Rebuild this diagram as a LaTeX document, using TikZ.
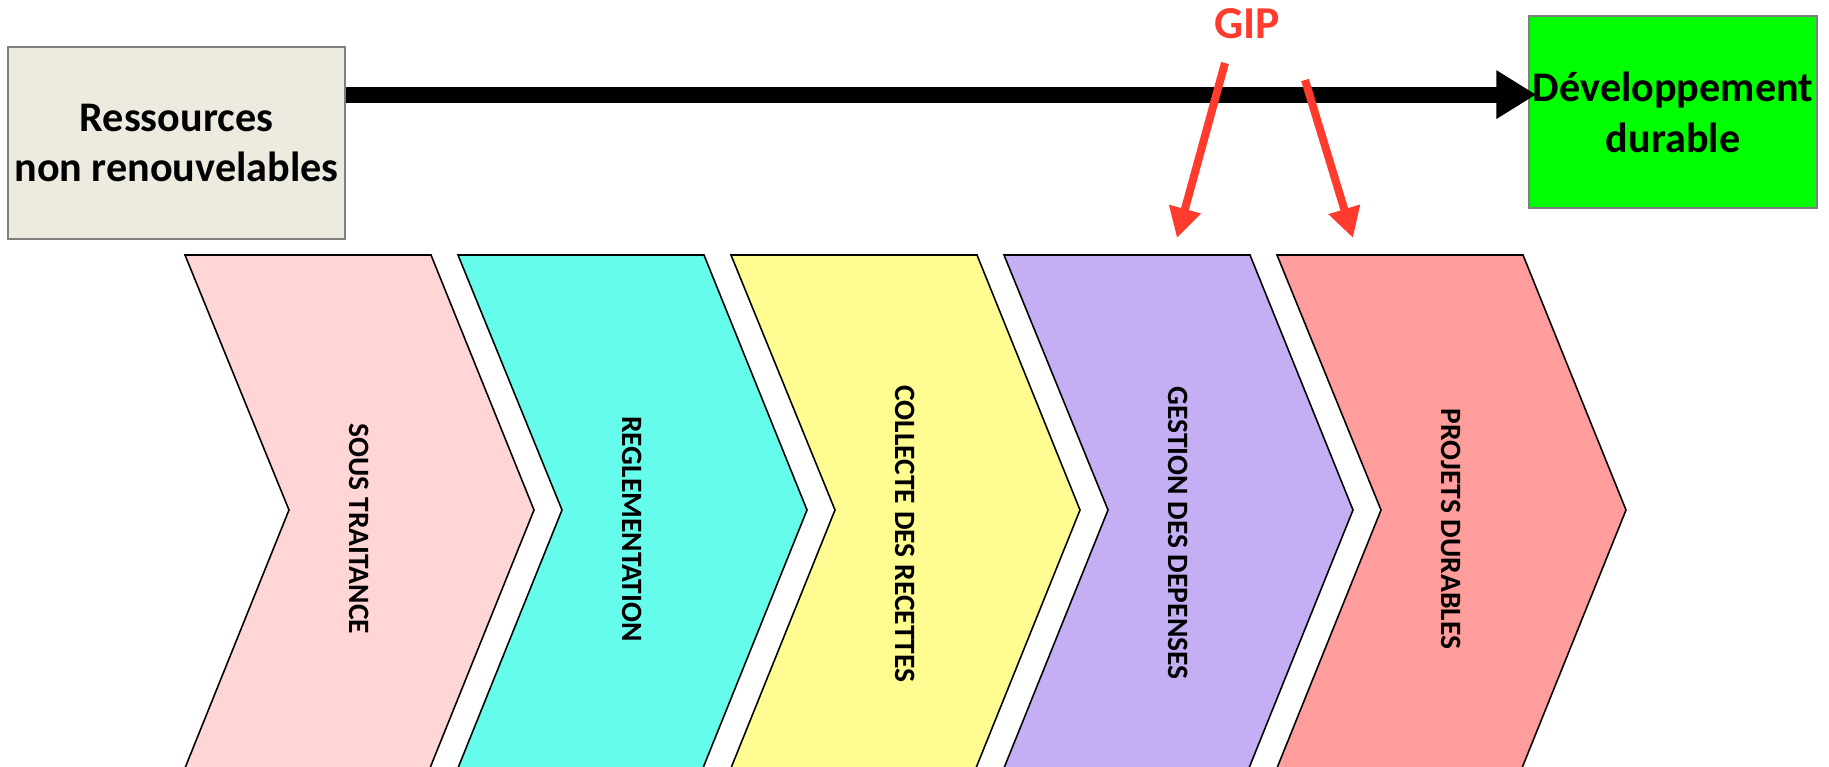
\documentclass[tikz,border=0pt]{standalone}
\usepackage{fontspec}
\setmainfont{Carlito}
\usetikzlibrary{arrows.meta, calc}

\definecolor{stepone}{HTML}{FFD5D6}
\definecolor{steptwo}{HTML}{66FCEC}
\definecolor{stepthree}{HTML}{FFFD91}
\definecolor{stepfour}{HTML}{C4AEF4}
\definecolor{stepfive}{HTML}{FF9C9C}
\definecolor{resbeige}{HTML}{EDEAE0}
\definecolor{devgreen}{HTML}{00FF00}
\definecolor{boxgray}{HTML}{7F7F7F}
\definecolor{gipred}{HTML}{FF3B2D}

\begin{document}
\begin{tikzpicture}[x=0.02cm, y=-0.02cm]
    \tikzset{
        endbox/.style={
            draw=boxgray, line width=0.9pt,
            minimum height=3.84cm, inner sep=0pt, align=center,
            font=\fontsize{24}{29}\selectfont\bfseries,
        },
        chevron/.style={draw=black, line width=0.9pt, line join=miter},
        steplabel/.style={rotate=-90, inner sep=0pt, font=\fontsize{16.8}{20}\selectfont\bfseries},
        bigarrow/.style={line width=0.32cm, -{Triangle[length=0.8cm, width=0.92cm]}},
        redarrow/.style={draw=gipred, line width=0.16cm, -{Triangle[length=0.6cm, width=0.62cm]}},
    }
    \useasboundingbox (0,0) rectangle (1829,767);

    % Boxes
    \node[endbox, fill=resbeige, minimum width=6.74cm] (ressources) at (176.5,143) {Ressources\\non renouvelables};
    \node[endbox, fill=devgreen, minimum width=5.76cm] (durable) at (1673,112) {Développement\\durable};

    % Main arrow
    \coordinate (arrowstart) at ($(ressources.north east)!0.25!(ressources.south east)$);
    \draw[bigarrow] (arrowstart) -- ($(durable.west |- arrowstart)+(8,0)$);

    % Steps
    \filldraw[chevron, fill=stepone]   (185,768)  -- ++(104,-258) -- ++(-104,-255) -- ++(246,0) -- ++(103,255) -- ++(-104,258);
    \filldraw[chevron, fill=steptwo]   (458,768)  -- ++(104,-258) -- ++(-104,-255) -- ++(246,0) -- ++(103,255) -- ++(-104,258);
    \filldraw[chevron, fill=stepthree] (731,768)  -- ++(104,-258) -- ++(-104,-255) -- ++(246,0) -- ++(103,255) -- ++(-104,258);
    \filldraw[chevron, fill=stepfour]  (1004,768) -- ++(104,-258) -- ++(-104,-255) -- ++(246,0) -- ++(103,255) -- ++(-104,258);
    \filldraw[chevron, fill=stepfive]  (1277,768) -- ++(104,-258) -- ++(-104,-255) -- ++(246,0) -- ++(103,255) -- ++(-104,258);

    \node[steplabel] (soustraitance) at (359.5,529)  {SOUS TRAITANCE};
    \node[steplabel] (reglementation) at (632.5,529) {REGLEMENTATION};
    \node[steplabel] (collecte) at (905.5,534)       {COLLECTE DES RECETTES};
    \node[steplabel] (gestion) at (1178.5,533)       {GESTION DES DEPENSES};
    \node[steplabel] (projets) at (1451.5,529)       {PROJETS DURABLES};

    % GIP
    \node[inner sep=0pt, text=gipred, font=\fontsize{26}{30}\selectfont\bfseries] (gip) at (1247,23.5) {GIP};
    \coordinate (giptailA) at (1225,63);
    \coordinate (giptailB) at (1305,80);
    \coordinate (gestiontop) at (1177,238);
    \coordinate (projetstop) at (1353,238);
    \draw[redarrow] (giptailA) -- (gestiontop);
    \draw[redarrow] (giptailB) -- (projetstop);
\end{tikzpicture}
\end{document}
